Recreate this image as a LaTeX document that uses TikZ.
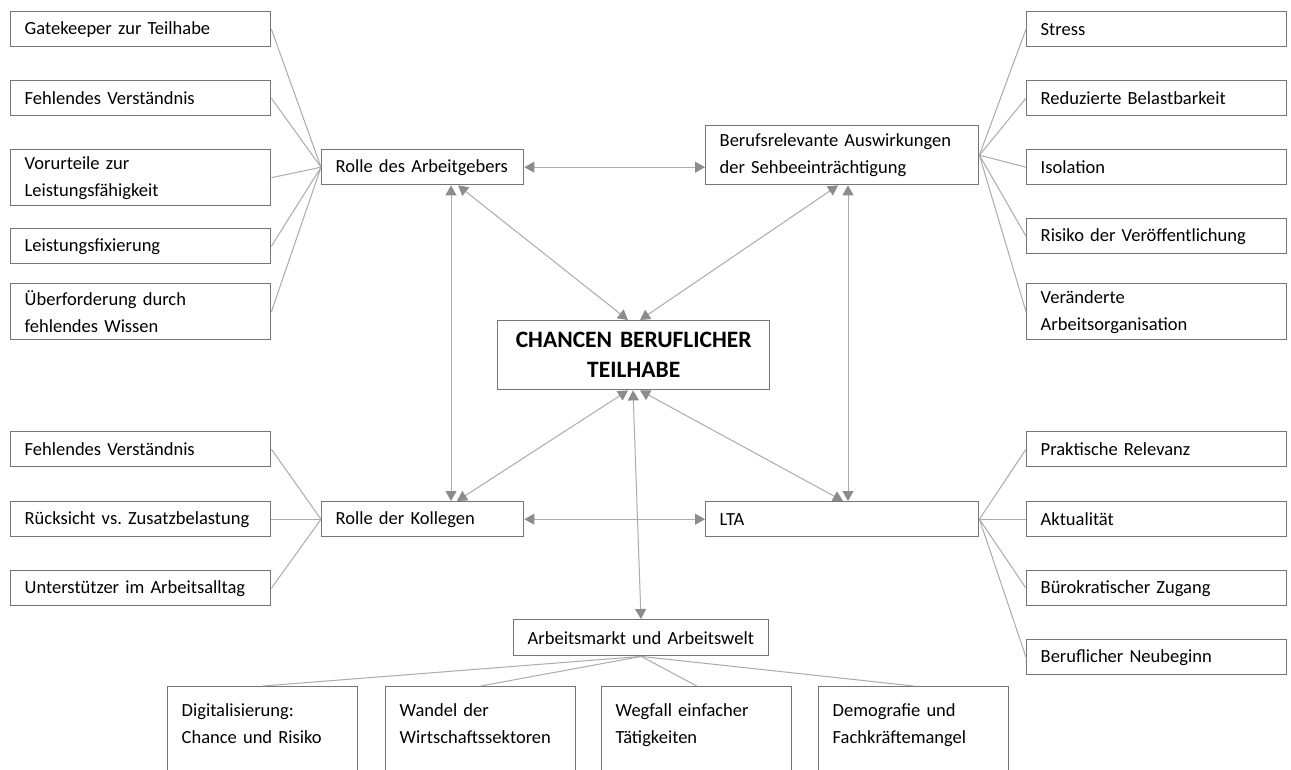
\documentclass[tikz,border=0pt]{standalone}
\usepackage{fontspec}
\setmainfont{Carlito}
\usetikzlibrary{arrows.meta}
\definecolor{boxgray}{HTML}{767676}
\definecolor{linegray}{HTML}{ABABAB}
\definecolor{tipgray}{HTML}{8C8C8C}
\frenchspacing

\begin{document}
\begin{tikzpicture}[x=1pt, y=-1pt,
    every node/.style={font=\fontsize{18.5}{27}\selectfont},
    box/.style={draw=boxgray, line width=1.4pt, anchor=north west, align=left, inner xsep=14pt, inner ysep=0pt},
    leaf/.style={box, text width=232pt, minimum height=35pt},
    leaftwo/.style={box, text width=232pt, minimum height=56pt},
    hub/.style={box, text width=174pt, minimum height=35pt},
    hubwide/.style={box, text width=245pt, minimum height=35pt},
    outcome/.style={box, text width=162pt, inner ysep=17pt, text depth=90pt},
    core/.style={box, align=center, text width=244pt, minimum height=69pt,
      font=\bfseries\fontsize{23.5}{30}\selectfont},
    link/.style={draw=linegray, line width=1pt},
    both/.style={link, {Triangle[length=10pt, width=11pt, color=tipgray]}-{Triangle[length=10pt, width=11pt, color=tipgray]}}]
    \useasboundingbox[fill=white] (0,0) rectangle (1291,769);

    % Centre
    \node[core] (ctr) at (497,320) {CHANCEN BERUFLICHER\\TEILHABE};

    % Main topics
    \node[hub]     (arb)   at (321,149) {Rolle des Arbeitgebers};
    \node[hubwide, minimum height=59pt] (bul) at (705,125) {Berufsrelevante Auswirkungen\\der Sehbeeinträchtigung};
    \node[hub]     (kol)   at (321,501) {Rolle der Kollegen};
    \node[hubwide] (lta)   at (705,501) {LTA};
    \node[box, text width=227pt, minimum height=36pt] (markt) at (513,619) {Arbeitsmarkt und Arbeitswelt};

    % Left, top
    \node[leaf]    (gate)   at (10,11)  {Gatekeeper zur Teilhabe};
    \node[leaf]    (verst)  at (10,80)  {Fehlendes Verständnis};
    \node[leaftwo] (vorurt) at (10,149) {Vorurteile zur\\Leistungsfähigkeit};
    \node[leaf]    (fix)    at (10,228) {Leistungsfixierung};
    \node[leaftwo] (ueber)  at (10,283) {Überforderung durch\\fehlendes Wissen};

    % Right, top
    \node[leaf]    (stress) at (1026,11)  {Stress};
    \node[leaf]    (belast) at (1026,80)  {Reduzierte Belastbarkeit};
    \node[leaf]    (isol)   at (1026,149) {Isolation};
    \node[leaf]    (risiko) at (1026,218) {Risiko der Veröffentlichung};
    \node[leaftwo] (orga)   at (1026,283) {Veränderte\\Arbeitsorganisation};

    % Left, bottom
    \node[leaf] (verstk)  at (10,431) {Fehlendes Verständnis};
    \node[leaf] (ruecks)  at (10,501) {Rücksicht vs. Zusatzbelastung};
    \node[leaf] (unterst) at (10,570) {Unterstützer im Arbeitsalltag};

    % Right, bottom
    \node[leaf] (prakt) at (1026,431) {Praktische Relevanz};
    \node[leaf] (aktu)  at (1026,501) {Aktualität};
    \node[leaf] (buero) at (1026,570) {Bürokratischer Zugang};
    \node[leaf] (neu)   at (1026,639) {Beruflicher Neubeginn};

    % Bottom row
    \node[outcome] (digi)    at (167,686) {Digitalisierung:\\Chance und Risiko};
    \node[outcome] (wandel)  at (385,686) {Wandel der\\Wirtschaftssektoren};
    \node[outcome] (wegfall) at (601,686) {Wegfall einfacher\\Tätigkeiten};
    \node[outcome] (demo)    at (818,686) {Demografie und\\Fachkräftemangel};

    % Fans
    \foreach \n in {gate,verst,vorurt,fix,ueber}
      \draw[link] (\n.east) -- (arb.west);
    \foreach \n in {stress,belast,isol,risiko,orga}
      \draw[link] (bul.east) -- (\n.west);
    \foreach \n in {verstk,ruecks,unterst}
      \draw[link] (\n.east) -- (kol.west);
    \foreach \n in {prakt,aktu,buero,neu}
      \draw[link] (lta.east) -- (\n.west);
    \foreach \n in {digi,wandel,wegfall,demo}
      \draw[link] (markt.south) -- (\n.north);

    % Arrows between main topics
    \draw[both] (arb.east) -- (arb.east -| bul.west);
    \draw[both] (kol.east) -- (kol.east -| lta.west);
    \draw[both] ([xshift=130pt]arb.south west) -- ([xshift=130pt]kol.north west);
    \draw[both] ([xshift=143pt]bul.south west) -- ([xshift=143pt]lta.north west);
    \draw[both] ([xshift=137pt]arb.south west) -- ([xshift=131pt]ctr.north west);
    \draw[both] ([xshift=133pt]bul.south west) -- ([xshift=143pt]ctr.north west);
    \draw[both] ([xshift=131pt]ctr.south west) -- ([xshift=136pt]kol.north west);
    \draw[both] ([xshift=136pt]ctr.south west) -- ([xshift=128pt]markt.north west);
    \draw[both] ([xshift=143pt]ctr.south west) -- ([xshift=138pt]lta.north west);
  \end{tikzpicture}
\end{document}
